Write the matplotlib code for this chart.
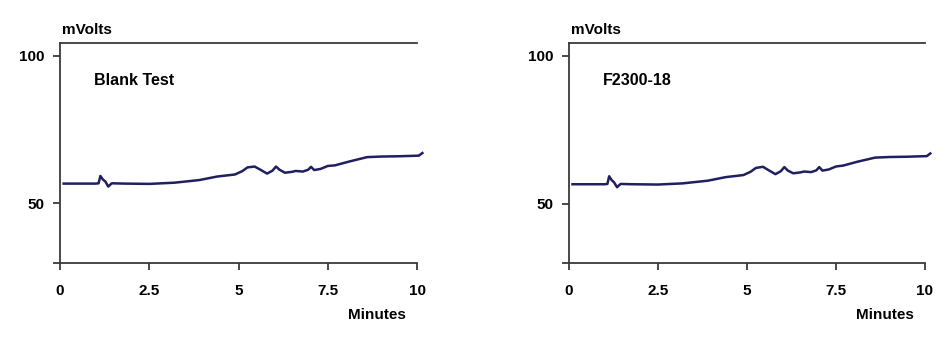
import matplotlib
matplotlib.use("Agg")
import matplotlib.pyplot as plt

plt.rcParams["font.family"] = ["Liberation Sans", "DejaVu Sans"]

# Chromatogram traces (time in minutes, signal in mV)
minutes = [0.1, 1.0, 1.08, 1.13, 1.2, 1.27, 1.35, 1.45, 1.8, 2.5, 3.2, 3.9, 4.4, 4.9,
           5.1, 5.25, 5.45, 5.6, 5.8, 5.95, 6.05, 6.15, 6.3, 6.5, 6.6, 6.8, 6.95, 7.03,
           7.12, 7.3, 7.5, 7.7, 8.1, 8.6, 9.0, 9.5, 10.05, 10.15]
blank_mv = [56.6, 56.6, 56.7, 59.2, 58.0, 57.3, 55.6, 56.7, 56.6, 56.5, 56.9, 57.8, 59.0,
            59.7, 60.8, 62.1, 62.4, 61.4, 60.0, 61.0, 62.4, 61.3, 60.3, 60.6, 60.9, 60.7,
            61.3, 62.3, 61.2, 61.6, 62.6, 62.8, 64.1, 65.6, 65.8, 65.9, 66.1, 67.0]
sample_mv = [56.6, 56.6, 56.7, 59.3, 58.0, 57.2, 55.6, 56.7, 56.6, 56.5, 56.9, 57.8, 59.0,
             59.7, 60.8, 62.1, 62.5, 61.4, 60.0, 61.0, 62.4, 61.2, 60.3, 60.6, 60.9, 60.7,
             61.3, 62.4, 61.2, 61.6, 62.6, 62.9, 64.2, 65.6, 65.8, 65.9, 66.1, 67.0]

x_ticks = [0, 2.5, 5, 7.5, 10]
x_tick_labels = ["0", "2.5", "5", "7.5", "10"]
y_ticks = [50, 100]
y_tick_labels = ["50", "100"]

panels = [
    ("Blank Test", blank_mv, [0.063, 0.2443, 0.3746, 0.632], (29.6, 104.4)),
    ("F2300-18", sample_mv, [0.597, 0.2443, 0.3736, 0.632], (30.0, 104.3)),
]

fig = plt.figure(figsize=(9.53, 3.48), dpi=100)
line_color = "#202060"
spine_color = "#3a3a3a"

for title, values, rect, ylim in panels:
    ax = fig.add_axes(rect)
    ax.plot(minutes, values, color=line_color, lw=1.8, solid_joinstyle="round",
            clip_on=False)
    ax.set_xlim(0, 10)
    ax.set_ylim(*ylim)

    ax.spines["right"].set_visible(False)
    for s in ("left", "bottom", "top"):
        ax.spines[s].set_color(spine_color)
        ax.spines[s].set_linewidth(1.3)

    ax.set_xticks(x_ticks)
    ax.set_xticklabels(x_tick_labels, fontsize=11, fontweight="bold")
    ax.set_yticks([ylim[0]] + y_ticks)
    ax.set_yticklabels([""] + y_tick_labels, fontsize=11, fontweight="bold")
    ax.tick_params(axis="x", direction="out", length=5, width=1.3, color=spine_color, pad=10)
    ax.tick_params(axis="y", direction="out", length=5, width=1.3, color=spine_color, pad=6)

    ax.text(0.095, 0.83, title, transform=ax.transAxes, fontsize=11.5, fontweight="bold",
            ha="left", va="center")
    ax.text(0.005, 1.06, "mVolts", transform=ax.transAxes, fontsize=11, fontweight="bold",
            ha="left", va="center")
    ax.text(0.97, -0.235, "Minutes", transform=ax.transAxes, fontsize=11, fontweight="bold",
            ha="right", va="center")

fig.savefig("out.png", dpi=100, facecolor="white")
